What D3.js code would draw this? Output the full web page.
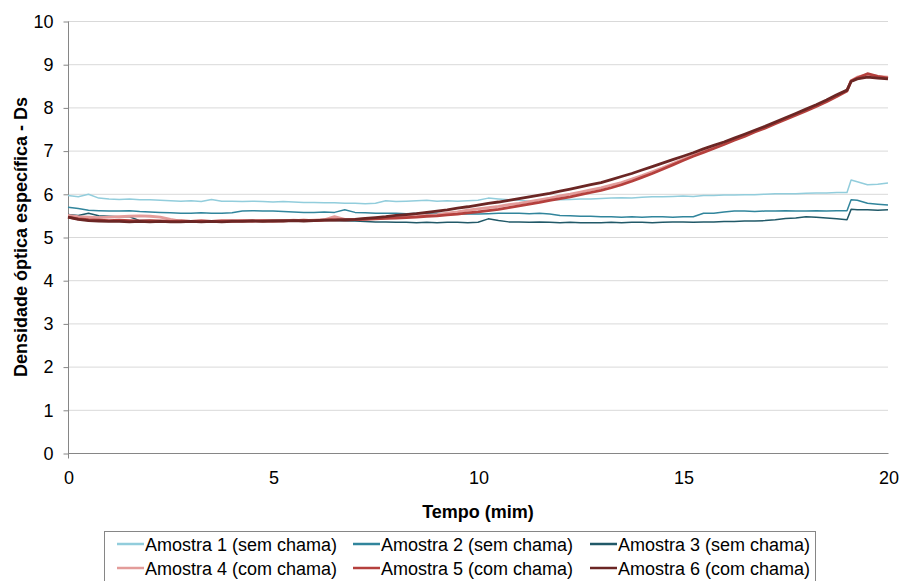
<!DOCTYPE html>
<html>
<head>
<meta charset="utf-8">
<script src="https://cdn.jsdelivr.net/npm/d3@7"></script>
<style>
  html, body { margin: 0; padding: 0; background: #fff; }
  svg { display: block; font-family: "Liberation Sans", Arial, sans-serif; }
</style>
</head>
<body>
<svg id="chart" width="901" height="581"></svg>
<script>
// Sampling times (minutes)
const minutes = [
  0, 0.25, 0.5, 0.75, 1, 1.25, 1.5, 1.75, 2, 2.25, 2.5, 2.75,
  3, 3.25, 3.5, 3.75, 4, 4.25, 4.5, 4.75, 5, 5.25, 5.5, 5.75,
  6, 6.25, 6.5, 6.75, 7, 7.25, 7.5, 7.75, 8, 8.25, 8.5, 8.75,
  9, 9.25, 9.5, 9.75, 10, 10.25, 10.5, 10.75, 11, 11.25, 11.5, 11.75,
  12, 12.25, 12.5, 12.75, 13, 13.25, 13.5, 13.75, 14, 14.25, 14.5, 14.75,
  15, 15.25, 15.5, 15.75, 16, 16.25, 16.5, 16.75, 17, 17.25, 17.5, 17.75,
  18, 18.25, 18.5, 18.75, 19, 19.1, 19.25, 19.5, 19.75, 20
];

// Specific optical density Ds for each sample
const amostra1 = [
  5.96, 5.93, 5.99, 5.90, 5.88, 5.87, 5.88, 5.86, 5.86, 5.85, 5.84, 5.83,
  5.84, 5.82, 5.87, 5.83, 5.83, 5.82, 5.83, 5.82, 5.81, 5.82, 5.81, 5.80,
  5.80, 5.79, 5.79, 5.78, 5.78, 5.77, 5.78, 5.84, 5.82, 5.83, 5.84, 5.85,
  5.83, 5.84, 5.83, 5.84, 5.85, 5.90, 5.88, 5.86, 5.85, 5.83, 5.85, 5.86,
  5.86, 5.87, 5.88, 5.88, 5.89, 5.90, 5.91, 5.90, 5.92, 5.93, 5.93, 5.94,
  5.95, 5.94, 5.96, 5.96, 5.97, 5.97, 5.98, 5.98, 5.99, 6.00, 6.00, 6.00,
  6.01, 6.02, 6.02, 6.03, 6.03, 6.32, 6.28, 6.21, 6.22, 6.25
];
const amostra2 = [
  5.69, 5.66, 5.62, 5.61, 5.60, 5.60, 5.61, 5.59, 5.58, 5.57, 5.56, 5.55,
  5.55, 5.56, 5.55, 5.55, 5.56, 5.60, 5.61, 5.60, 5.60, 5.59, 5.58, 5.57,
  5.57, 5.58, 5.57, 5.63, 5.57, 5.56, 5.55, 5.55, 5.55, 5.54, 5.55, 5.54,
  5.55, 5.54, 5.53, 5.54, 5.53, 5.54, 5.55, 5.55, 5.55, 5.54, 5.55, 5.53,
  5.50, 5.49, 5.48, 5.48, 5.47, 5.47, 5.46, 5.47, 5.46, 5.47, 5.47, 5.46,
  5.47, 5.47, 5.55, 5.55, 5.58, 5.60, 5.60, 5.59, 5.60, 5.60, 5.61, 5.60,
  5.60, 5.61, 5.60, 5.61, 5.61, 5.86, 5.85, 5.78, 5.76, 5.74
];
const amostra3 = [
  5.52, 5.50, 5.55, 5.49, 5.48, 5.47, 5.47, 5.38, 5.38, 5.37, 5.37, 5.36,
  5.37, 5.36, 5.37, 5.37, 5.38, 5.37, 5.37, 5.38, 5.38, 5.39, 5.38, 5.38,
  5.39, 5.38, 5.38, 5.37, 5.37, 5.36, 5.35, 5.35, 5.34, 5.34, 5.33, 5.34,
  5.33, 5.34, 5.34, 5.33, 5.34, 5.42, 5.38, 5.35, 5.35, 5.34, 5.35, 5.34,
  5.33, 5.34, 5.33, 5.33, 5.33, 5.34, 5.33, 5.34, 5.34, 5.33, 5.34, 5.35,
  5.35, 5.34, 5.35, 5.35, 5.36, 5.36, 5.37, 5.37, 5.38, 5.40, 5.43, 5.44,
  5.47, 5.46, 5.44, 5.42, 5.40, 5.64, 5.63, 5.63, 5.62, 5.63
];
const amostra4 = [
  5.50, 5.47, 5.46, 5.45, 5.46, 5.47, 5.48, 5.49, 5.48, 5.46, 5.41, 5.37,
  5.36, 5.37, 5.36, 5.37, 5.37, 5.36, 5.38, 5.37, 5.38, 5.37, 5.39, 5.38,
  5.39, 5.40, 5.47, 5.41, 5.41, 5.42, 5.43, 5.44, 5.46, 5.47, 5.49, 5.50,
  5.52, 5.55, 5.58, 5.62, 5.65, 5.68, 5.71, 5.75, 5.78, 5.82, 5.86, 5.90,
  5.95, 5.99, 6.04, 6.09, 6.14, 6.20, 6.26, 6.34, 6.42, 6.51, 6.60, 6.70,
  6.80, 6.89, 6.98, 7.07, 7.16, 7.26, 7.35, 7.45, 7.54, 7.64, 7.74, 7.84,
  7.94, 8.04, 8.15, 8.27, 8.39, 8.62, 8.70, 8.76, 8.72, 8.70
];
const amostra5 = [
  5.46, 5.42, 5.40, 5.39, 5.38, 5.39, 5.38, 5.37, 5.38, 5.37, 5.36, 5.37,
  5.36, 5.37, 5.36, 5.37, 5.37, 5.38, 5.37, 5.38, 5.37, 5.38, 5.38, 5.39,
  5.38, 5.39, 5.40, 5.39, 5.40, 5.41, 5.42, 5.43, 5.44, 5.45, 5.46, 5.48,
  5.49, 5.51, 5.53, 5.56, 5.58, 5.61, 5.64, 5.68, 5.72, 5.76, 5.80, 5.85,
  5.89, 5.93, 5.98, 6.03, 6.08, 6.14, 6.21, 6.29, 6.38, 6.47, 6.57, 6.67,
  6.77, 6.87, 6.96, 7.05, 7.14, 7.24, 7.33, 7.43, 7.52, 7.62, 7.72, 7.82,
  7.92, 8.02, 8.13, 8.25, 8.38, 8.61, 8.68, 8.78, 8.72, 8.68
];
const amostra6 = [
  5.46, 5.41, 5.38, 5.37, 5.36, 5.36, 5.35, 5.36, 5.35, 5.36, 5.35, 5.35,
  5.36, 5.35, 5.36, 5.35, 5.36, 5.36, 5.37, 5.36, 5.37, 5.37, 5.38, 5.37,
  5.38, 5.39, 5.39, 5.40, 5.41, 5.43, 5.45, 5.47, 5.50, 5.52, 5.54, 5.57,
  5.60, 5.63, 5.67, 5.70, 5.74, 5.78, 5.81, 5.85, 5.89, 5.93, 5.97, 6.01,
  6.06, 6.11, 6.16, 6.21, 6.26, 6.33, 6.40, 6.47, 6.55, 6.63, 6.71, 6.79,
  6.87, 6.95, 7.04, 7.12, 7.20, 7.29, 7.38, 7.47, 7.56, 7.66, 7.76, 7.86,
  7.96, 8.06, 8.17, 8.29, 8.40, 8.60, 8.66, 8.70, 8.68, 8.66
];

const seriesNames = [
  "Amostra 1 (sem chama)", "Amostra 2 (sem chama)", "Amostra 3 (sem chama)",
  "Amostra 4 (com chama)", "Amostra 5 (com chama)", "Amostra 6 (com chama)"
];
const seriesValues = [amostra1, amostra2, amostra3, amostra4, amostra5, amostra6];
const seriesColors = ["#92cddc", "#31859c", "#215968", "#e39c9a", "#b5403d", "#6b2624"];
const seriesWidths = [1.5, 1.5, 1.5, 2.8, 2.8, 2.8];

const xTicks = [0, 5, 10, 15, 20];
const yTicks = [0, 1, 2, 3, 4, 5, 6, 7, 8, 9, 10];
const xTitle = "Tempo (mim)";
const yTitle = "Densidade óptica específica - Ds";

const fontFamily = "'Liberation Sans', Arial, sans-serif";
const svg = d3.select("#chart");
const plotLeft = 68, plotRight = 888, plotTop = 21, plotBottom = 453;

const x = d3.scaleLinear().domain([0, 20]).range([plotLeft, plotRight]);
const y = d3.scaleLinear().domain([0, 10]).range([plotBottom, plotTop]);

// Horizontal gridlines
svg.append("g")
  .selectAll("line")
  .data(yTicks.filter(d => d > 0))
  .join("line")
  .attr("x1", plotLeft).attr("x2", plotRight)
  .attr("y1", d => y(d) + 0.5).attr("y2", d => y(d) + 0.5)
  .attr("stroke", "#d9d9d9").attr("stroke-width", 1);

// Y axis
const yAxis = d3.axisLeft(y).tickValues(yTicks).tickSize(5).tickPadding(10).tickFormat(d3.format("d"));
const gy = svg.append("g").attr("transform", `translate(${plotLeft + 0.5},0.5)`).call(yAxis);
gy.select(".domain").attr("stroke", "#868686").attr("d", `M0,${plotTop}V${plotBottom + 5}`);
gy.selectAll(".tick line").attr("stroke", "#868686");
gy.selectAll(".tick text").attr("font-size", 18).attr("fill", "#000")
  .attr("font-family", fontFamily);

// X axis
const xAxis = d3.axisBottom(x).tickValues(xTicks).tickSize(0).tickPadding(18).tickFormat(d3.format("d"));
const gx = svg.append("g").attr("transform", `translate(0.5,${plotBottom + 0.5})`).call(xAxis);
gx.select(".domain").attr("stroke", "#868686").attr("d", `M${plotLeft},0H${plotRight}`);
gx.selectAll(".tick text").attr("font-size", 18).attr("fill", "#000")
  .attr("font-family", fontFamily);

// Series lines
const line = d3.line()
  .x((d, i) => x(minutes[i]))
  .y(d => y(d));

svg.append("g")
  .selectAll("path")
  .data(seriesValues)
  .join("path")
  .attr("d", d => line(d))
  .attr("fill", "none")
  .attr("stroke", (d, i) => seriesColors[i])
  .attr("stroke-width", (d, i) => seriesWidths[i])
  .attr("stroke-linejoin", "round");

// Axis titles
svg.append("text")
  .attr("x", 478).attr("y", 518)
  .attr("text-anchor", "middle")
  .attr("font-size", 18).attr("font-weight", "bold").attr("fill", "#000")
  .text(xTitle);

svg.append("text")
  .attr("transform", `translate(27,${(plotTop + plotBottom) / 2}) rotate(-90)`)
  .attr("text-anchor", "middle")
  .attr("font-size", 18).attr("font-weight", "bold").attr("fill", "#000")
  .text(yTitle);

// Legend
const legend = svg.append("g");
legend.append("rect")
  .attr("x", 104.5).attr("y", 531.5).attr("width", 711).attr("height", 60)
  .attr("fill", "#fff").attr("stroke", "#868686");

const colX = [117, 353, 590];
const rowY = [544, 568];
seriesNames.forEach((name, i) => {
  const cx = colX[i % 3], cy = rowY[Math.floor(i / 3)];
  legend.append("line")
    .attr("x1", cx).attr("x2", cx + 27)
    .attr("y1", cy).attr("y2", cy)
    .attr("stroke", seriesColors[i]).attr("stroke-width", 2.5);
  legend.append("text")
    .attr("x", cx + 28).attr("y", cy + 6.5)
    .attr("font-size", 18).attr("fill", "#000")
    .text(name);
});
</script>
</body>
</html>
